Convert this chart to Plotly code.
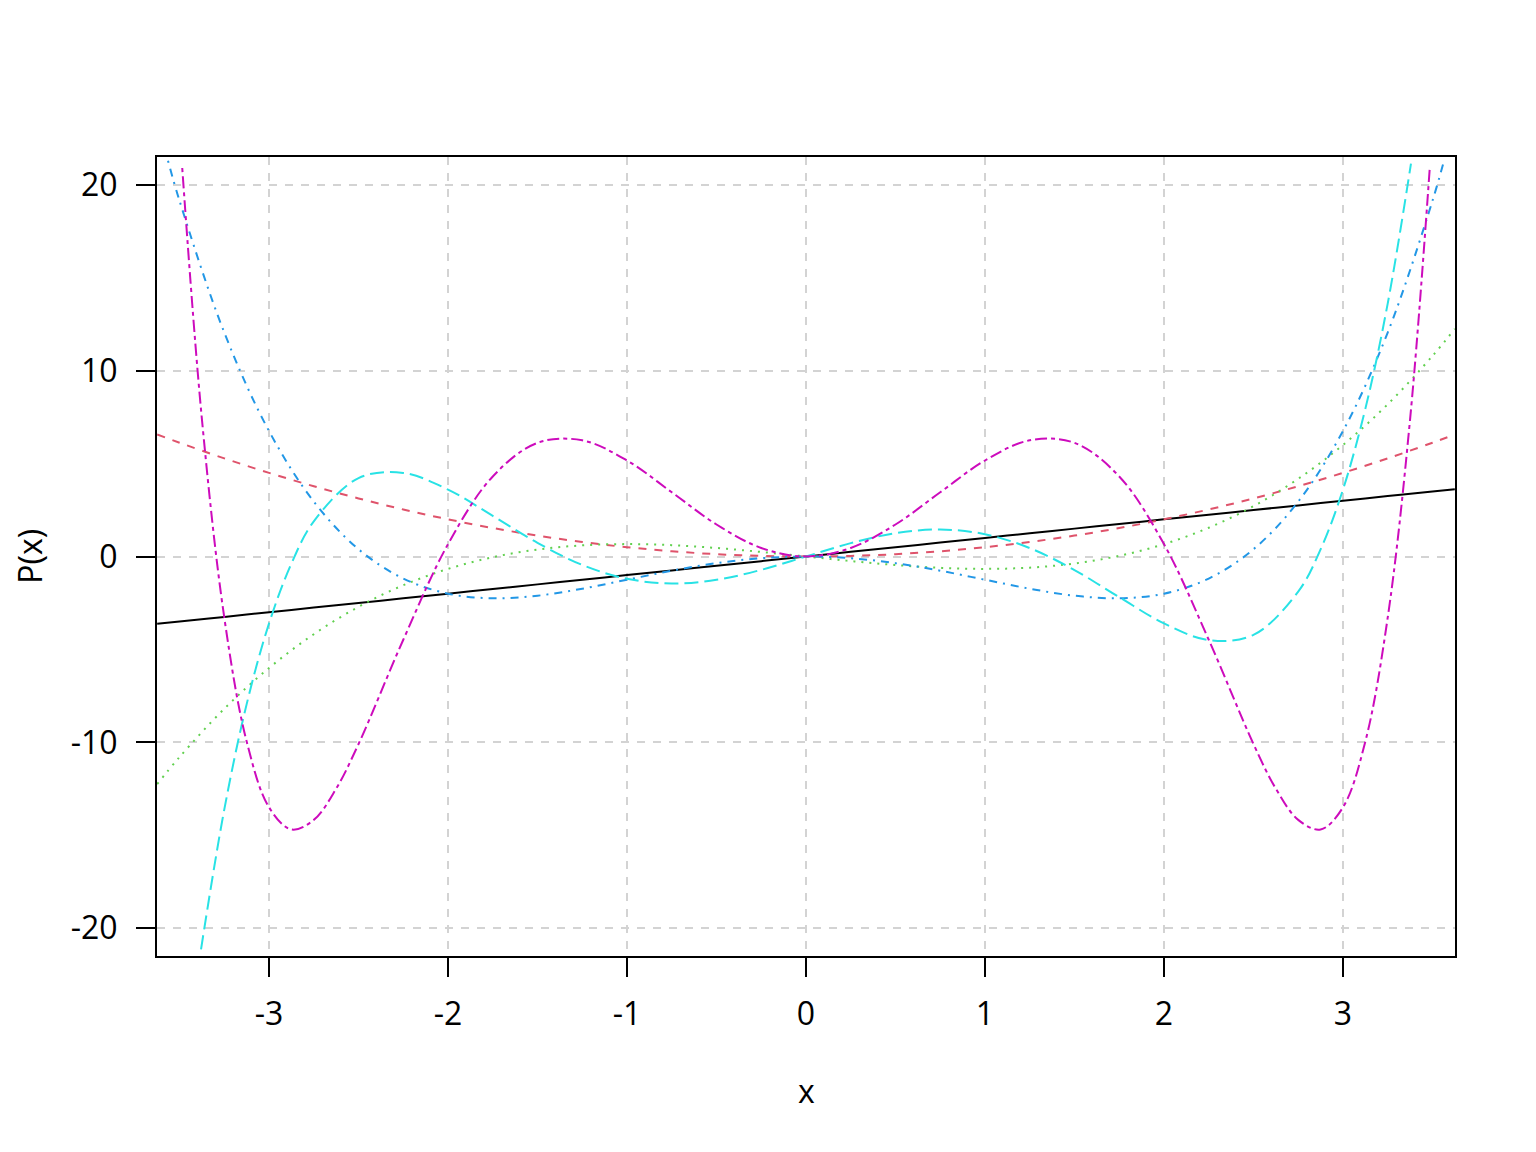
import plotly.graph_objects as go

# x positions
x_main = [-3.625, -3.5, -3.25, -3.0, -2.75, -2.5, -2.25, -2.0, -1.75, -1.5, -1.25, -1.0, -0.75, -0.5, -0.25,
          0.0, 0.25, 0.5, 0.75, 1.0, 1.25, 1.5, 1.75, 2.0, 2.25, 2.5, 2.75, 3.0, 3.25, 3.5, 3.625]
p1 = [-3.625, -3.5, -3.25, -3.0, -2.75, -2.5, -2.25, -2.0, -1.75, -1.5, -1.25, -1.0, -0.75, -0.5, -0.25,
      0.0, 0.25, 0.5, 0.75, 1.0, 1.25, 1.5, 1.75, 2.0, 2.25, 2.5, 2.75, 3.0, 3.25, 3.5, 3.625]
p2 = [6.5703, 6.125, 5.2813, 4.5, 3.7813, 3.125, 2.5313, 2.0, 1.5313, 1.125, 0.7813, 0.5, 0.2813, 0.125, 0.0313,
      0.0, 0.0313, 0.125, 0.2813, 0.5, 0.7813, 1.125, 1.5313, 2.0, 2.5313, 3.125, 3.7813, 4.5, 5.2813, 6.125, 6.5703]
p3 = [-12.2533, -10.7917, -8.1927, -6.0, -4.1823, -2.7083, -1.5469, -0.6667, -0.0365, 0.375, 0.599, 0.6667, 0.6094, 0.4583, 0.2448,
      0.0, -0.2448, -0.4583, -0.6094, -0.6667, -0.599, -0.375, 0.0365, 0.6667, 1.5469, 2.7083, 4.1823, 6.0, 8.1927, 10.7917, 12.2533]

x_blue = [-3.5645, -3.5, -3.25, -3.0, -2.75, -2.5, -2.25, -2.0, -1.75, -1.5, -1.25, -1.0, -0.75, -0.5, -0.25,
          0.0, 0.25, 0.5, 0.75, 1.0, 1.25, 1.5, 1.75, 2.0, 2.25, 2.5, 2.75, 3.0, 3.25, 3.5, 3.5645]
p4 = [21.30, 19.1406, 12.0479, 6.75, 2.9541, 0.3906, -1.1865, -2.0, -2.249, -2.1094, -1.7334, -1.25, -0.7646, -0.3594, -0.0928,
      0.0, -0.0928, -0.3594, -0.7646, -1.25, -1.7334, -2.1094, -2.249, -2.0, -1.1865, 0.3906, 2.9541, 6.75, 12.0479, 19.1406, 21.30]

x_cyan = [-3.38, -3.25, -3.125, -3.0, -2.875, -2.75, -2.5, -2.25, -2.0, -1.75, -1.5, -1.25, -1.0, -0.75, -0.5, -0.25,
          0.0, 0.25, 0.5, 0.75, 1.0, 1.25, 1.5, 1.75, 2.0, 2.25, 2.5, 2.75, 2.875, 3.0, 3.125, 3.25, 3.38]
p5 = [-21.14, -13.6119, -7.9444, -3.6, -0.382, 1.8885, 4.2188, 4.4982, 3.6, 2.1861, 0.7313, -0.4541, -1.2, -1.4537, -1.2563, -0.7189,
      0.0, 0.7189, 1.2563, 1.4537, 1.2, 0.4541, -0.7313, -2.1861, -3.6, -4.4982, -4.2188, -1.8885, 0.382, 3.6, 7.9444, 13.6119, 21.14]

x_mag = [-3.485, -3.375, -3.25, -3.125, -3.0, -2.875, -2.75, -2.625, -2.5, -2.25, -2.0, -1.75, -1.5, -1.25, -1.0, -0.75, -0.5, -0.25,
         0.0, 0.25, 0.5, 0.75, 1.0, 1.25, 1.5, 1.75, 2.0, 2.25, 2.5, 2.625, 2.75, 2.875, 3.0, 3.125, 3.25, 3.375, 3.485]
p6 = [20.906, 7.3792, -3.2939, -9.956, -13.5, -14.6905, -14.1748, -12.4935, -10.0911, -4.4791, 0.6667, 4.3086, 6.1172, 6.251, 5.1667, 3.4574, 1.7214, 0.459,
      0.0, 0.459, 1.7214, 3.4574, 5.1667, 6.251, 6.1172, 4.3086, 0.6667, -4.4791, -10.0911, -12.4935, -14.1748, -14.6905, -13.5, -9.956, -3.2939, 7.3792, 20.906]

x_ticks = [-3, -2, -1, 0, 1, 2, 3]
x_ticklabels = ["-3", "-2", "-1", "0", "1", "2", "3"]
y_ticks = [-20, -10, 0, 10, 20]
y_ticklabels = ["-20", "-10", "0", "10", "20"]

series = [
    (x_main, p1, "#000000", "solid"),
    (x_main, p2, "#DF536B", "8px,8px"),
    (x_main, p3, "#61D04F", "2px,6px"),
    (x_blue, p4, "#2297E6", "2px,6px,8px,6px"),
    (x_cyan, p5, "#28E2E5", "14px,6px"),
    (x_mag, p6, "#CD0BBC", "4px,4px,12px,4px"),
]

FONT = "Open Sans"
fig = go.Figure()
for xs, ys, col, dash in series:
    fig.add_trace(go.Scatter(x=xs, y=ys, mode="lines",
                             line=dict(color=col, width=2, dash=dash, shape="spline", smoothing=1.0),
                             showlegend=False, hoverinfo="skip"))

axis_common = dict(
    showline=True, linecolor="black", linewidth=2, mirror=True,
    ticks="outside", ticklen=19, tickwidth=2, tickcolor="black",
    showgrid=True, gridcolor="#D3D3D3", gridwidth=2, griddash="8px,8px",
    zeroline=False, tickfont=dict(family=FONT, size=32, color="black"),
)

fig.update_layout(
    width=1528, height=1144,
    margin=dict(l=149, r=81, t=149, b=196),
    paper_bgcolor="white", plot_bgcolor="white",
    font=dict(family=FONT, size=32, color="black"),
    xaxis=dict(range=[-3.626, 3.626], tickvals=x_ticks, ticktext=x_ticklabels,
               ticklabelstandoff=10, **axis_common),
    yaxis=dict(range=[-21.5, 21.5], tickvals=y_ticks, ticktext=y_ticklabels,
               ticklabelstandoff=12, **axis_common),
    annotations=[
        dict(text="x", xref="paper", yref="paper", x=0.5, y=-0.168,
             xanchor="center", yanchor="middle", showarrow=False,
             font=dict(family=FONT, size=32, color="black")),
        dict(text="P(x)", xref="paper", yref="paper", x=-0.0985, y=0.5,
             xanchor="center", yanchor="middle", textangle=-90, showarrow=False,
             font=dict(family=FONT, size=32, color="black")),
    ],
)

fig.write_html("out.html")
